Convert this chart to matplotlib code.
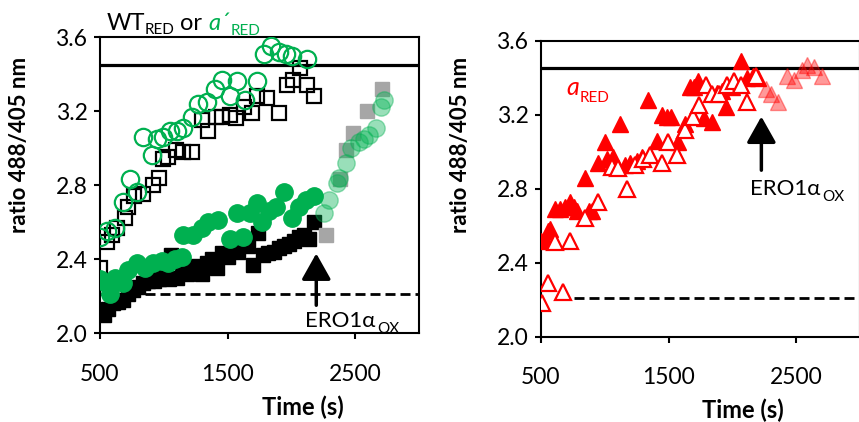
import matplotlib.pyplot as plt

plt.rcParams['font.family'] = ['Lato', 'DejaVu Sans']

GREEN = '#00B050'
RED = '#FF0000'

# left panel: WT_RED (squares) and a'_RED (circles)
open_circ_t = [500, 555, 617, 680, 734, 789, 836, 906, 945, 992, 1047, 1102, 1148, 1219,
               1266, 1336, 1398, 1453, 1516, 1570, 1633, 1734, 1789, 1844, 1906, 1961, 2008, 2125]
open_circ_y = [2.52, 2.55, 2.57, 2.71, 2.83, 2.76, 3.06, 2.96, 3.05, 3.06, 3.09, 3.09, 3.11, 3.17,
               3.24, 3.25, 3.32, 3.37, 3.28, 3.36, 3.26, 3.36, 3.51, 3.55, 3.52, 3.51, 3.50, 3.48]

open_sq_t = [500, 555, 594, 633, 695, 719, 766, 836, 914, 961, 992, 1031, 1094, 1148, 1219, 1297,
             1344, 1406, 1453, 1516, 1563, 1625, 1695, 1734, 1805, 1906, 1969, 2016, 2070, 2125, 2180]
open_sq_y = [2.35, 2.49, 2.53, 2.57, 2.62, 2.68, 2.74, 2.75, 2.80, 2.84, 2.94, 2.95, 2.99, 2.98, 2.98, 3.15,
             3.09, 3.17, 3.17, 3.18, 3.16, 3.22, 3.19, 3.28, 3.27, 3.19, 3.34, 3.37, 3.43, 3.34, 3.28]

fill_sq_t = [500, 530, 560, 600, 640, 680, 720, 760, 800, 840, 880, 920, 960, 1000, 1040, 1060,
             1100, 1140, 1180, 1220, 1260, 1300, 1340, 1380, 1420, 1460, 1500, 1540, 1580, 1620,
             1660, 1700, 1740, 1780, 1820, 1860, 1900, 1940, 1980, 2020, 2060, 2100, 2140, 2180]
fill_sq_y = [2.11, 2.10, 2.13, 2.16, 2.17, 2.18, 2.21, 2.23, 2.25, 2.27, 2.28, 2.28, 2.29, 2.31, 2.29, 2.42,
             2.30, 2.38, 2.32, 2.34, 2.36, 2.32, 2.38, 2.40, 2.35, 2.43, 2.41, 2.45, 2.44, 2.48,
             2.47, 2.37, 2.54, 2.42, 2.43, 2.44, 2.46, 2.47, 2.48, 2.50, 2.52, 2.53, 2.51, 2.60]

fill_circ_t = [500, 550, 578, 617, 680, 719, 789, 852, 914, 984, 1031, 1086, 1141, 1148, 1227, 1297,
               1344, 1422, 1516, 1570, 1617, 1672, 1727, 1773, 1828, 1883, 1945, 2008, 2063, 2117, 2180]
fill_circ_y = [2.29, 2.27, 2.21, 2.30, 2.27, 2.34, 2.38, 2.35, 2.38, 2.39, 2.38, 2.40, 2.41, 2.53, 2.53, 2.57,
               2.60, 2.61, 2.51, 2.65, 2.52, 2.65, 2.70, 2.60, 2.66, 2.68, 2.76, 2.62, 2.68, 2.72, 2.74]

ox_circ_t = [2258, 2297, 2360, 2375, 2430, 2469, 2531, 2570, 2609, 2664, 2703, 2727]
ox_circ_y = [2.65, 2.72, 2.81, 2.84, 2.92, 3.00, 3.03, 3.05, 3.07, 3.11, 3.22, 3.26]

ox_sq_t = [2270, 2380, 2430, 2480, 2590, 2710]
ox_sq_y = [2.53, 2.83, 2.99, 3.08, 3.20, 3.32]

# right panel: a_RED (triangles)
fill_tri_t = [500, 530, 555, 570, 610, 650, 690, 727, 760, 781, 844, 880, 898, 945, 1000, 1016, 1063,
              1117, 1156, 1200, 1250, 1289, 1336, 1406, 1445, 1490, 1520, 1570, 1625, 1664, 1700,
              1727, 1781, 1844, 1880, 1920, 1953, 2000, 2070, 2117, 2160, 2200]
fill_tri_y = [2.52, 2.53, 2.57, 2.58, 2.69, 2.69, 2.70, 2.73, 2.70, 2.68, 2.86, 2.68, 2.68, 2.94, 3.05, 2.96, 2.97,
              3.15, 2.93, 2.94, 2.95, 2.97, 3.28, 3.06, 3.20, 3.19, 3.19, 3.05, 3.15, 3.35, 3.35,
              3.38, 3.18, 3.16, 3.32, 3.33, 3.24, 3.35, 3.49, 3.40, 3.41, 3.40]

open_tri_t = [508, 555, 610, 672, 727, 844, 945, 1055, 1102, 1172, 1234, 1297, 1352, 1445, 1492,
              1563, 1625, 1688, 1742, 1797, 1844, 1898, 1961, 2016, 2070, 2117, 2188]
open_tri_y = [2.18, 2.29, 2.51, 2.24, 2.52, 2.64, 2.73, 2.92, 2.91, 2.80, 2.93, 2.96, 2.98, 2.94, 3.05,
              2.98, 3.12, 3.19, 3.25, 3.36, 3.31, 3.31, 3.36, 3.38, 3.36, 3.27, 3.41]

ox_tri_t = [2266, 2305, 2360, 2425, 2484, 2547, 2586, 2641, 2703]
ox_tri_y = [3.34, 3.31, 3.27, 3.41, 3.39, 3.44, 3.47, 3.46, 3.41]

SOLID_Y = 3.45
DASH_Y = 2.21
ARROW_L = (2195, 2.43, 2.15)
ARROW_R = (2227, 3.19, 2.90)

W, H = 859, 422


def fx(px):
    return px / W


def fy(py):
    return 1 - py / H


fig = plt.figure(figsize=(W / 100, H / 100), dpi=100)
axL = fig.add_axes([fx(100), fy(333), 319 / W, 296 / H])
axR = fig.add_axes([fx(541), fy(336.7), 319 / W, 296 / H])

for ax in (axL, axR):
    ax.set_xlim(500, 3000)
    ax.set_ylim(2.0, 3.6)
    ax.set_xticks([500, 1500, 2500])
    ax.set_yticks([2.0, 2.4, 2.8, 3.2, 3.6])
    ax.set_yticklabels(['2.0', '2.4', '2.8', '3.2', '3.6'])
    ax.tick_params(direction='out', length=4, width=1.5, labelsize=16.5)
    ax.tick_params(axis='x', pad=18)
    ax.tick_params(axis='y', pad=5)
    for s in ax.spines.values():
        s.set_linewidth(1.5)
    ax.axhline(SOLID_Y, color='black', lw=2.3, zorder=1)

axL.axhline(DASH_Y, color='black', lw=2, ls=(0, (3.6, 1.8)), zorder=1)
axR.hlines(DASH_Y, 640, 3000, color='black', lw=2, ls=(0, (3.6, 1.8)), zorder=1)

MS_C, MS_S, MS_T = 12.5, 10.5, 12

# left panel markers
axL.plot(open_sq_t, open_sq_y, 's', ms=MS_S, mfc='none', mec='black', mew=1.6, zorder=3)
axL.plot(open_circ_t, open_circ_y, 'o', ms=MS_C, mfc='none', mec=GREEN, mew=1.6, zorder=3)
axL.plot(fill_sq_t, fill_sq_y, 's', ms=MS_S, color='black', zorder=3)
axL.plot(ox_sq_t, ox_sq_y, 's', ms=MS_S, color='#A6A6A6', zorder=3)
axL.plot(fill_circ_t, fill_circ_y, 'o', ms=MS_C, color=GREEN, zorder=4)
axL.plot(ox_circ_t, ox_circ_y, 'o', ms=MS_C, color=GREEN, alpha=0.4, zorder=4)

# right panel markers
axR.plot(fill_tri_t, fill_tri_y, '^', ms=MS_T, color=RED, zorder=3)
axR.plot(open_tri_t, open_tri_y, '^', ms=MS_T, mfc='white', mec=RED, mew=1.6, zorder=4)
axR.plot(ox_tri_t, ox_tri_y, '^', ms=MS_T, color=RED, alpha=0.4, zorder=3)

arrow = dict(arrowstyle='-|>,head_length=0.8,head_width=0.45', lw=2.5, color='black',
             mutation_scale=20, shrinkA=0, shrinkB=0)
axL.annotate('', xy=(ARROW_L[0], ARROW_L[1]), xytext=(ARROW_L[0], ARROW_L[2]),
             arrowprops=arrow, zorder=5)
axR.annotate('', xy=(ARROW_R[0], ARROW_R[1]), xytext=(ARROW_R[0], ARROW_R[2]),
             arrowprops=arrow, zorder=5)

# texts
fig.text(fx(305), fy(327), 'ERO1α', fontsize=16, va='baseline')
fig.text(fx(377), fy(333), 'OX', fontsize=11, va='baseline')
fig.text(fx(750), fy(195), 'ERO1α', fontsize=16, va='baseline')
fig.text(fx(822), fy(201), 'OX', fontsize=11, va='baseline')

fig.text(fx(107), fy(30), 'WT', fontsize=17, va='baseline')
fig.text(fx(145), fy(34), 'RED', fontsize=11, va='baseline')
fig.text(fx(180), fy(30), 'or', fontsize=17, va='baseline')
fig.text(fx(208), fy(30), 'a´', fontsize=17, style='italic', color=GREEN, va='baseline')
fig.text(fx(231), fy(35), 'RED', fontsize=11, color=GREEN, va='baseline')

fig.text(fx(566), fy(95), 'a', fontsize=18, style='italic', color=RED, va='baseline')
fig.text(fx(580), fy(102), 'RED', fontsize=11, color=RED, va='baseline')

for x in (20, 460):
    fig.text(fx(x), fy(145), 'ratio 488/405 nm', fontsize=16, fontweight='bold',
             rotation=90, ha='center', va='center')
fig.text(fx(303), fy(407), 'Time (s)', fontsize=17, fontweight='bold', ha='center', va='center')
fig.text(fx(743), fy(410), 'Time (s)', fontsize=17, fontweight='bold', ha='center', va='center')

fig.savefig('out.png', dpi=100)
